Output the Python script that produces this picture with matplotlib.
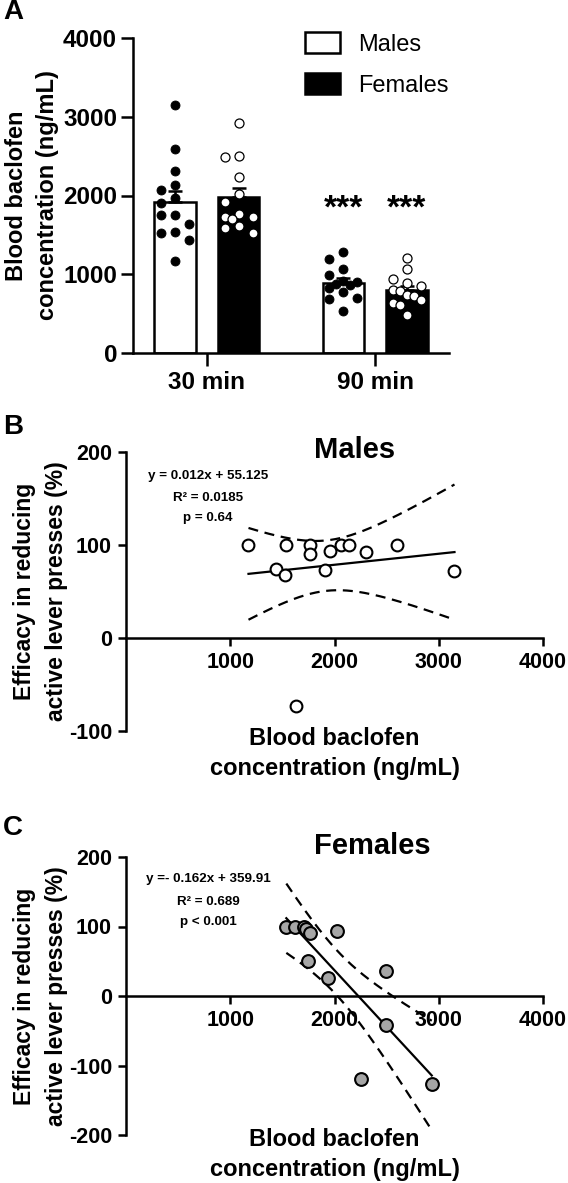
import numpy as np
import matplotlib
matplotlib.use('Agg')
import matplotlib.pyplot as plt
from matplotlib.patches import Patch

plt.rcParams['font.family'] = ['Liberation Sans', 'DejaVu Sans']
plt.rcParams['font.weight'] = 'bold'
plt.rcParams['axes.unicode_minus'] = False

# panel A: blood baclofen concentration per rat (ng/mL)
GROUPS = ['30 min', '90 min']
MALES_30 = [3149, 2590, 2307, 2137, 2070, 1968, 1909, 1757, 1757, 1634, 1536, 1520, 1431, 1168]
FEMALES_30 = [2925, 2500, 2490, 2230, 2020, 1920, 1760, 1730, 1730, 1700, 1610, 1590, 1530]
MALES_90 = [1287, 1198, 1063, 990, 920, 900, 880, 860, 820, 770, 700, 680, 530]
FEMALES_90 = [1205, 1065, 940, 890, 850, 800, 790, 740, 720, 670, 630, 615, 480]
LEGEND_LABELS = ['Males', 'Females']

# panel B: males, concentration vs efficacy (%)
MALE_CONC = [1175, 1442, 1525, 1539, 1633, 1761, 1761, 1910, 1958, 2059, 2135, 2302, 2596, 3151]
MALE_EFF = [100, 74, 68, 100, -73, 100, 90, 73, 94, 100, 100, 92, 100, 72]
MALE_STATS = ['y = 0.012x + 55.125', 'R\u00b2 = 0.0185', 'p = 0.64']

# panel C: females
FEMALE_CONC = [1538, 1625, 1712, 1730, 1747, 1762, 1936, 2026, 2250, 2490, 2490, 2933]
FEMALE_EFF = [100, 100, 100, 97, 50, 91, 26, 93, -119, 36, -42, -127]
FEMALE_STATS = ['y =- 0.162x + 359.91', 'R\u00b2 = 0.689', 'p < 0.001']

X_LABEL = 'Blood baclofen\nconcentration (ng/mL)'
Y_LABEL_CONC = 'Blood baclofen\nconcentration (ng/mL)'
Y_LABEL_EFF = 'Efficacy in reducing\nactive lever presses (%)'

T975 = {10: 2.228, 11: 2.201, 12: 2.179}

W, H = 568, 1183
LW = 1.8


def box(left, top, right, bottom):
    return [left / W, 1 - bottom / H, (right - left) / W, (bottom - top) / H]


def swarm(values, gap):
    # simple column swarm like prism's scatter-on-bar
    placed = []
    cols = []
    for v in values:
        best, best_d = 0, -1
        for c in [0, -1, 1, -0.5, 0.5]:
            d = min([abs(v - pv) for pv, pc in placed if pc == c] or [1e9])
            if d >= gap:
                best = c
                break
            if d > best_d:
                best, best_d = c, d
        placed.append((v, best))
        cols.append(best)
    return np.array(cols)


def sem(v):
    v = np.asarray(v, float)
    return v.std(ddof=1) / np.sqrt(len(v))


fig = plt.figure(figsize=(W / 100, H / 100), dpi=100)

# ---- panel A
axA = fig.add_axes(box(133, 38, 449, 353))
x = np.arange(len(GROUPS))
off, bw = 0.19, 0.245
males = [MALES_30, MALES_90]
females = [FEMALES_30, FEMALES_90]
m_mean = [np.mean(v) for v in males]
f_mean = [np.mean(v) for v in females]
m_sem = [sem(v) for v in males]
f_sem = [sem(v) for v in females]

axA.bar(x - off, m_mean, bw, color='white', edgecolor='black', linewidth=LW, zorder=2)
axA.bar(x + off, f_mean, bw, color='black', edgecolor='black', linewidth=LW, zorder=2)
axA.errorbar(x - off, m_mean, yerr=[[0, 0], m_sem], fmt='none', ecolor='black',
             elinewidth=LW, capsize=5, capthick=LW, zorder=3)
axA.errorbar(x + off, f_mean, yerr=[[0, 0], f_sem], fmt='none', ecolor='black',
             elinewidth=LW, capsize=5, capthick=LW, zorder=3)

step = 0.083
for i in range(len(GROUPS)):
    mv = sorted(males[i], reverse=True)
    fv = sorted(females[i], reverse=True)
    axA.scatter(x[i] - off + swarm(mv, 140) * step, mv, s=42, color='black',
                edgecolors='black', linewidths=0.6, zorder=4)
    axA.scatter(x[i] + off + swarm(fv, 140) * step, fv, s=42, color='white',
                edgecolors='black', linewidths=0.9, zorder=4)
    if i == 1:
        for xx in (x[i] - off, x[i] + off):
            axA.text(xx, 1830, '***', ha='center', va='center', fontsize=24, weight='bold')

axA.set_xlim(-0.44, 1.44)
axA.set_ylim(0, 4000)
axA.set_yticks([0, 1000, 2000, 3000, 4000])
axA.set_xticks(x)
axA.set_xticklabels(GROUPS)
for s in ['top', 'right']:
    axA.spines[s].set_visible(False)
for s in ['left', 'bottom']:
    axA.spines[s].set_linewidth(LW)
axA.tick_params(axis='y', width=LW, length=8.5, labelsize=17.5, pad=3)
axA.tick_params(axis='x', width=LW, length=9, labelsize=17.5, pad=4)
axA.text(-0.32, 0.5, Y_LABEL_CONC, rotation=90,
         transform=axA.transAxes, ha='center', va='center', fontsize=17,
         weight='bold', linespacing=1.45)

handles = [Patch(facecolor='white', edgecolor='black', linewidth=LW),
           Patch(facecolor='black', edgecolor='black', linewidth=LW)]
fig.legend(handles, LEGEND_LABELS, loc='upper left', bbox_to_anchor=(305 / W, 1 - 32 / H),
           frameon=False, prop={'weight': 'normal', 'size': 17}, handlelength=1.5,
           handleheight=1.0, labelspacing=0.75, handletextpad=0.75, borderpad=0,
           borderaxespad=0)


# ---- panels B and C
def corr_panel(ax, xs, ys, ylim, yticks, face, msize, title, tpos, stats, spos, xlab_y):
    xs = np.asarray(xs, float)
    ys = np.asarray(ys, float)
    n = len(xs)
    slope, icpt = np.polyfit(xs, ys, 1)
    resid = ys - (slope * xs + icpt)
    s = np.sqrt(np.sum(resid ** 2) / (n - 2))
    sxx = np.sum((xs - xs.mean()) ** 2)
    xf = np.linspace(xs.min(), xs.max(), 200)
    yf = slope * xf + icpt
    half = T975[n - 2] * s * np.sqrt(1 / n + (xf - xs.mean()) ** 2 / sxx)

    ax.plot(xf, yf, color='black', lw=1.6, zorder=2)
    ax.plot(xf, yf + half, color='black', lw=1.6, ls=(0, (4.5, 3)), zorder=2)
    ax.plot(xf, yf - half, color='black', lw=1.6, ls=(0, (4.5, 3)), zorder=2)
    ax.plot(xs, ys, 'o', ms=msize, mfc=face, mec='black', mew=1.5, zorder=3, clip_on=False)

    ax.set_xlim(0, 4000)
    ax.set_ylim(*ylim)
    ax.set_xticks([1000, 2000, 3000, 4000])
    ax.set_yticks(yticks)
    ax.spines['bottom'].set_position(('data', 0))
    for sp in ['top', 'right']:
        ax.spines[sp].set_visible(False)
    for sp in ['left', 'bottom']:
        ax.spines[sp].set_linewidth(LW)
    ax.tick_params(width=LW, length=6, labelsize=15.5, pad=4)

    ax.text(tpos[0], tpos[1], title, transform=ax.transAxes, ha='center', va='center',
            fontsize=21, weight='bold')
    for line, yy in zip(stats, spos):
        ax.text(0.197, yy, line, transform=ax.transAxes, ha='center', va='center',
                fontsize=9.6, weight='bold')
    ax.text(0.5, xlab_y, X_LABEL, transform=ax.transAxes, ha='center', va='center',
            fontsize=17, weight='bold', linespacing=1.4)
    ax.text(-0.205, 0.5, Y_LABEL_EFF, rotation=90, transform=ax.transAxes, ha='center',
            va='center', fontsize=16.5, weight='bold', linespacing=1.45)


axB = fig.add_axes(box(126, 452, 543, 731))
corr_panel(axB, MALE_CONC, MALE_EFF, (-100, 200), [-100, 0, 100, 200], 'white', 8.5,
           'Males', (0.549, 1.007), MALE_STATS, [0.914, 0.835, 0.763], -0.08)

axC = fig.add_axes(box(126, 857, 543, 1135))
corr_panel(axC, FEMALE_CONC, FEMALE_EFF, (-200, 200), [-200, -100, 0, 100, 200], '#a6a6a6', 9.2,
           'Females', (0.59, 1.04), FEMALE_STATS, [0.92, 0.8375, 0.765], -0.07)

for letter, yy in [('A', 12), ('B', 427), ('C', 828)]:
    fig.text(3 / W, 1 - yy / H, letter, fontsize=20, weight='bold', ha='left', va='center')

fig.savefig('out.png', dpi=100)
